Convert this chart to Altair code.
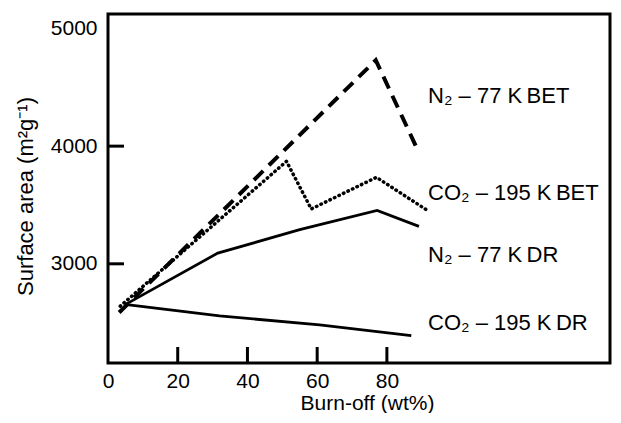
import altair as alt
import pandas as pd

# ---- data ----
x_tick_labels = [0, 20, 40, 60, 80]
y_tick_labels = [3000, 4000, 5000]
x_tick_marks = [20, 40, 60, 80]
y_tick_marks = [3000, 4000]

n2_bet_x = [3.2, 76.8, 88.8]
n2_bet_y = [2586, 4730, 3970]

co2_bet_x = [3.5, 51.2, 58.3, 77.0, 91.3]
co2_bet_y = [2640, 3871, 3466, 3735, 3460]

n2_dr_x = [4.8, 31.5, 55.0, 77.2, 89.2]
n2_dr_y = [2651, 3091, 3290, 3454, 3318]

co2_dr_x = [4.8, 32.0, 60.7, 87.0]
co2_dr_y = [2655, 2557, 2481, 2390]

label_text = ["N₂ – 77 K\u2009BET", "CO₂ – 195 K\u2009BET", "N₂ – 77 K\u2009DR", "CO₂ – 195 K\u2009DR"]
label_x = [91.8, 91.8, 91.8, 91.8]
label_y = [4430, 3604, 3077, 2498]

X_DOMAIN = [0, 144]
Y_DOMAIN = [2157, 5123]

FONT = "Liberation Sans"

def series_df(xs, ys):
    return pd.DataFrame({"x": xs, "y": ys, "o": list(range(len(xs)))})

x_axis = alt.Axis(values=x_tick_labels, title="Burn-off (wt%)", labelFlush=False,
                  format="d", labelPadding=7, titleFontSize=21,
                  titleX=259, titleY=29)
y_axis = alt.Axis(values=y_tick_labels, title="Surface area (m²g⁻¹)", format="d",
                  labelPadding=11, titleFontSize=22, titleX=-71, titleY=182)

x_scale = alt.Scale(domain=X_DOMAIN, nice=False, zero=False)
y_scale = alt.Scale(domain=Y_DOMAIN, nice=False, zero=False)

X = alt.X("x:Q", scale=x_scale, axis=x_axis)
Y = alt.Y("y:Q", scale=y_scale, axis=y_axis)

n2_bet = alt.Chart(series_df(n2_bet_x, n2_bet_y)).mark_line(
    color="black", strokeWidth=4, strokeDash=[13, 8]
).encode(x=X, y=Y, order="o:Q")

co2_bet = alt.Chart(series_df(co2_bet_x, co2_bet_y)).mark_line(
    color="black", strokeWidth=3.5, strokeDash=[0.5, 4.5], strokeCap="round"
).encode(x=X, y=Y, order="o:Q")

n2_dr = alt.Chart(series_df(n2_dr_x, n2_dr_y)).mark_line(
    color="black", strokeWidth=2.8
).encode(x=X, y=Y, order="o:Q")

co2_dr = alt.Chart(series_df(co2_dr_x, co2_dr_y)).mark_line(
    color="black", strokeWidth=2.8
).encode(x=X, y=Y, order="o:Q")

x_ticks = alt.Chart(pd.DataFrame({"x": x_tick_marks})).mark_rule(
    color="black", strokeWidth=3
).encode(x=X, y=alt.value(349), y2=alt.value(333))

y_ticks = alt.Chart(pd.DataFrame({"y": y_tick_marks})).mark_rule(
    color="black", strokeWidth=3
).encode(y=Y, x=alt.value(0), x2=alt.value(16))

labels = alt.Chart(pd.DataFrame({"x": label_x, "y": label_y, "t": label_text})).mark_text(
    align="left", baseline="middle", font=FONT, fontSize=22, color="black"
).encode(x=X, y=Y, text="t:N")

chart = alt.layer(n2_bet, co2_bet, n2_dr, co2_dr, x_ticks, y_ticks, labels).properties(
    width=502, height=349,
    autosize=alt.AutoSizeParams(type="none"),
    padding={"left": 100, "top": 6, "right": 3, "bottom": 50},
).configure_view(
    stroke="black", strokeWidth=3
).configure_axis(
    domain=False, ticks=False, tickSize=0, grid=False,
    labelFont=FONT, labelFontSize=21, labelColor="black",
    titleFont=FONT, titleFontWeight="normal", titleColor="black",
)

chart.save("out.html", embed_options={"renderer": "svg", "actions": False})
